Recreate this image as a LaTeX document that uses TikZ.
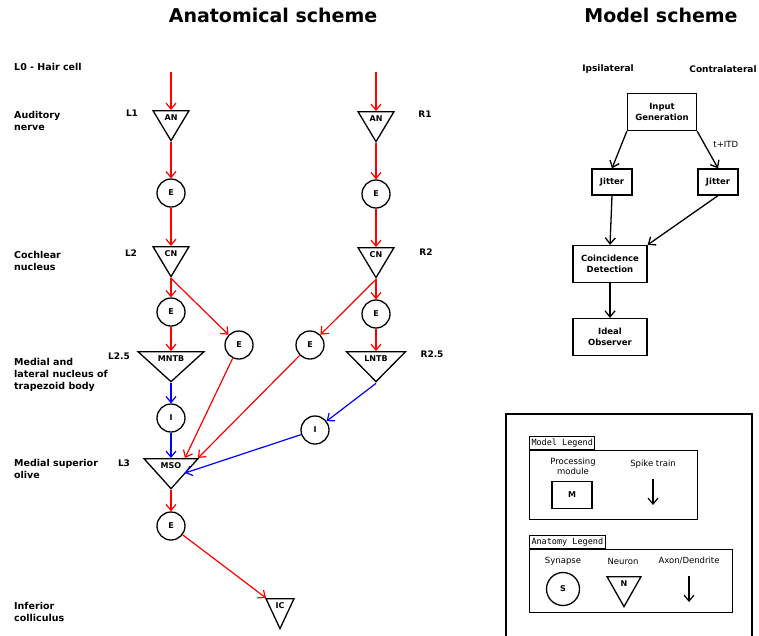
\documentclass[tikz,border=0pt]{standalone}
\usepackage{fontspec}
\setmainfont{DejaVu Sans}
\setmonofont{DejaVu Sans Mono}
\usetikzlibrary{shapes.geometric,arrows.meta,calc}

\tikzset{
  spike/.style={line width=1.2pt,-{Straight Barb[length=6pt,width=10pt]}},
  excite/.style={spike,red},
  inhibit/.style={spike,blue},
  syn/.style={circle,draw,line width=1.3pt,minimum size=28pt,inner sep=0pt,
    font=\fontsize{8}{9}\selectfont\bfseries},
  neuron/.style 2 args={isosceles triangle,isosceles triangle stretches,
    shape border rotate=270,draw,line width=1.3pt,inner sep=0pt,
    minimum width=#1,minimum height=30pt,anchor=north,
    label={[anchor=north,inner sep=4.5pt,font=\fontsize{8}{9}\selectfont\bfseries]north:#2}},
  module/.style={draw,line width=1.3pt,align=center,inner sep=2pt,
    font=\fontsize{8.5}{11}\selectfont\bfseries},
  flow/.style={line width=1.3pt,-{Straight Barb[length=6pt,width=10pt]}},
  title/.style={font=\fontsize{19}{21}\selectfont\bfseries},
  stage/.style={anchor=west,align=left,inner sep=0pt,
    font=\fontsize{9.5}{12}\selectfont\bfseries},
  level/.style={font=\fontsize{9}{12}\selectfont\bfseries},
  legtxt/.style={align=center,font=\fontsize{8.5}{10}\selectfont},
  tab/.style={draw,line width=1pt,inner sep=2pt,minimum height=13pt,
    anchor=south west,font=\fontsize{8.5}{10}\selectfont\ttfamily},
  legbox/.style={draw,line width=1.2pt,anchor=north west}
}

\begin{document}
\begin{tikzpicture}[x=1pt,y=-1pt]
  \useasboundingbox (0,0) rectangle (759,635);

  \node[title] (anatitle) at (273,15) {Anatomical scheme};
  \node[title] (modtitle) at (661,15) {Model scheme};

  % stages of the pathway
  \node[stage] (hair) at (14,67) {L0 - Hair cell};
  \node[stage] (nerve) at (14,121) {Auditory\\nerve};
  \node[stage] (cochlear) at (14,261) {Cochlear\\nucleus};
  \node[stage] (trapezoid) at (14,375) {Medial and\\lateral nucleus of\\trapezoid body};
  \node[stage] (olive) at (14,469) {Medial superior\\olive};
  \node[stage] (colliculus) at (14,612) {Inferior\\colliculus};

  \node[level] (l1) at (132,113) {L1};
  \node[level] (l2) at (131,253) {L2};
  \node[level] (l25) at (119,356) {L2.5};
  \node[level] (l3) at (124,463) {L3};
  \node[level] (r1) at (425,114) {R1};
  \node[level] (r2) at (426,252) {R2};
  \node[level] (r25) at (432,354) {R2.5};

  % left side
  \coordinate (lhair) at (171,72);
  \node[neuron={36pt}{AN}] (lan) at (171,110) {};
  \node[syn] (le1) at (171,193) {E};
  \node[neuron={36pt}{CN}] (lcn) at (171,246) {};
  \node[syn] (le2) at (171,312) {E};
  \node[syn] (le3) at (239,345) {E};
  \node[neuron={66pt}{MNTB}] (mntb) at (171,351) {};
  \node[syn] (li) at (171,418) {I};
  \node[neuron={54pt}{MSO}] (mso) at (171,458) {};
  \node[syn] (le4) at (171,526) {E};
  \node[neuron={28pt}{IC}] (ic) at (280,598) {};

  % right side
  \coordinate (rhair) at (376,72);
  \node[neuron={36pt}{AN}] (ran) at (376,111) {};
  \node[syn] (re1) at (376,194) {E};
  \node[neuron={36pt}{CN}] (rcn) at (376,247) {};
  \node[syn] (re2) at (376,314) {E};
  \node[syn] (re3) at (310,345) {E};
  \node[neuron={59pt}{LNTB}] (lntb) at (376,351) {};
  \node[syn] (ri) at (315,430) {I};

  \draw[excite] (lhair) -- (lan.north);
  \draw[excite] (lan.apex) -- (le1);
  \draw[excite] (le1) -- (lcn.north);
  \draw[excite] (lcn.apex) -- (le2);
  \draw[excite] (lcn.apex) -- (le3);
  \draw[excite] (le2) -- (mntb.north);
  \draw[inhibit] (mntb.apex) -- (li);
  \draw[inhibit] (li) -- (mso.north);
  \draw[excite] (le3) -- ([xshift=14pt]mso.north);
  \draw[excite] (re3) -- ([xshift=27pt]mso.north);
  \draw[inhibit] (ri) -- ([xshift=14pt,yshift=-15pt]mso.north);
  \draw[excite] (mso.apex) -- (le4);
  \draw[excite] (le4) -- ([xshift=-14pt]ic.north);

  \draw[excite] (rhair) -- (ran.north);
  \draw[excite] (ran.apex) -- (re1);
  \draw[excite] (re1) -- (rcn.north);
  \draw[excite] (rcn.apex) -- (re2);
  \draw[excite] (rcn.apex) -- (re3);
  \draw[excite] (re2) -- (lntb.north);
  \draw[inhibit] (lntb.apex) -- (ri);

  % model
  \node[level] (ipsi) at (608,69) {Ipsilateral};
  \node[level] (contra) at (723,69) {Contralateral};
  \node[module,minimum width=69pt,minimum height=37pt] (input) at (662,112) {Input\\Generation};
  \node[module,minimum width=40pt,minimum height=26pt] (ljit) at (612,182) {Jitter};
  \node[module,minimum width=40pt,minimum height=26pt] (rjit) at (718,182) {Jitter};
  \node[module,minimum width=74pt,minimum height=37pt] (coinc) at (610,264) {Coincidence\\Detection};
  \node[module,minimum width=74pt,minimum height=37pt] (observer) at (610,337) {Ideal\\Observer};

  \draw[flow] (input.south west) -- (ljit.north);
  \draw[flow] (input.south east) -- node[pos=0.35,right=5pt,font=\fontsize{8.5}{10}\selectfont] {t+ITD} (rjit.north);
  \draw[flow] (ljit.south) -- (coinc.north);
  \draw[flow] (rjit.south) -- (coinc.north east);
  \draw[flow] (coinc.south) -- (observer.north);

  % legend
  \draw[line width=1.2pt] (506,645) |- (752,414) -- (752,645);

  \node[legbox,minimum width=168pt,minimum height=69pt] (mlbox) at (529,450) {};
  \node[tab] (mltab) at (mlbox.north west) {Model Legend};
  \node[legtxt] (proc) at (573,466) {Processing\\module};
  \node[draw,line width=1.3pt,minimum width=40pt,minimum height=27pt,
    font=\fontsize{8}{10}\selectfont\bfseries] (mbox) at (572,495) {M};
  \node[legtxt] (train) at (653,464) {Spike train};
  \coordinate (trainend) at (653,505);
  \draw[spike] (653,479) -- (trainend);

  \node[legbox,minimum width=203pt,minimum height=63pt] (albox) at (529,549) {};
  \node[tab] (altab) at (albox.north west) {Anatomy Legend};
  \node[legtxt] (synapse) at (563,561) {Synapse};
  \node[syn,minimum size=33pt] (ssym) at (563,589) {S};
  \node[legtxt] (neuronlbl) at (623,561) {Neuron};
  \node[neuron={34pt}{N}] (nsym) at (624,576) {};
  \node[legtxt] (axon) at (689,561) {Axon/Dendrite};
  \coordinate (axonend) at (689,602);
  \draw[spike] (689,576) -- (axonend);
\end{tikzpicture}
\end{document}
